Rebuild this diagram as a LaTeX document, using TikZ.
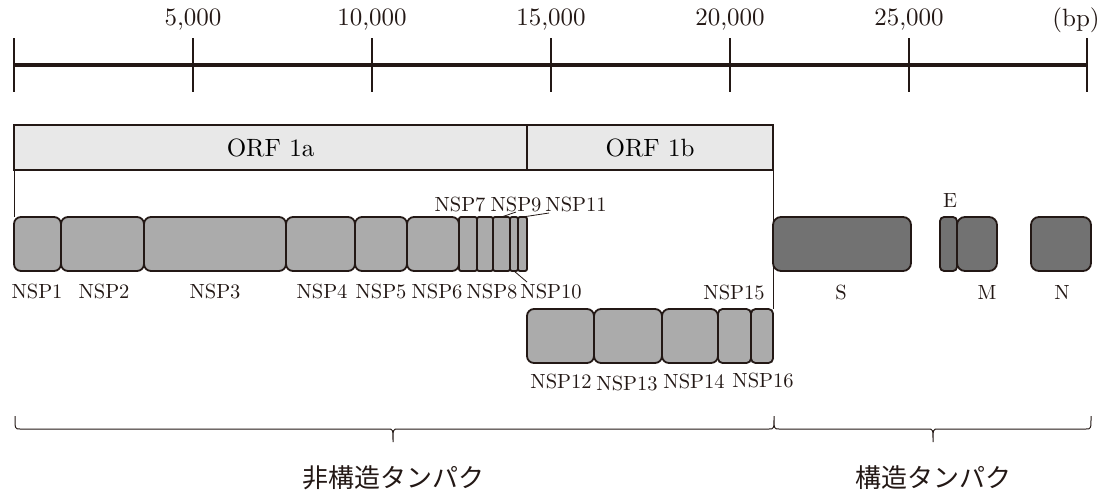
\documentclass[tikz,border=0pt]{standalone}
\usepackage{fontspec}
\setmainfont{lmroman10-regular.otf}
\newfontfamily\cjk{Noto Sans CJK JP}
\definecolor{ink}{HTML}{231815}
\definecolor{nspg}{HTML}{ABABAB}
\definecolor{strg}{HTML}{727272}
\definecolor{orfg}{HTML}{E8E8E8}
\newcommand\seg[7]{\node[#6, minimum width={(#3-#2)*1pt}, minimum height={(#5-#4)*1pt}] (#1) at (#2,#4) {#7};}
\begin{document}
\begin{tikzpicture}[x=1pt,y=-1pt,
  box/.style={draw=ink, line width=1.8pt, inner sep=0pt, outer sep=0pt, anchor=north west},
  nsp/.style={box, fill=nspg, rounded corners=7pt},
  nspn/.style={box, fill=nspg, rounded corners=2pt},
  nspm/.style={box, fill=nspg, rounded corners=4.5pt},
  str/.style={box, fill=strg, rounded corners=8pt},
  strn/.style={box, fill=strg, rounded corners=4pt},
  orf/.style={box, fill=orfg, font=\fontsize{25}{28}\selectfont},
  num/.style={font=\fontsize{25}{28}\selectfont, text=ink},
  lab/.style={font=\fontsize{20.5}{23}\selectfont, text=ink, anchor=base, inner sep=0pt},
  lead/.style={draw=ink, line width=0.8pt},
  jp/.style={font=\cjk\fontsize{26}{30}\selectfont, text=ink}]
\useasboundingbox (0,0) rectangle (1105,493);
% scale
\coordinate (a0) at (14,65);
\coordinate (a1) at (1087,65);
\draw[ink, line width=4pt] (a0) -- (a1);
\foreach \x in {14,193,372,551,730,909,1087}
  \draw[ink, line width=1.1pt] (\x,38) -- (\x,92);
\node[num] (n5) at (193,20) {5,000};
\node[num] (n10) at (372,20) {10,000};
\node[num] (n15) at (551,20) {15,000};
\node[num] (n20) at (730,20) {20,000};
\node[num] (n25) at (909,20) {25,000};
\node[num] (nbp) at (1076,20) {(bp)};
% ORF boxes
\seg{orfa}{14}{527}{125}{170}{orf}{ORF 1a}
\seg{orfb}{527}{773}{125}{170}{orf}{ORF 1b}
% NSP row 1
\seg{nsp1}{14}{61}{217}{271}{nsp}{}
\seg{nsp2}{61}{144}{217}{271}{nsp}{}
\seg{nsp3}{144}{286}{217}{271}{nsp}{}
\seg{nsp4}{286}{355}{217}{271}{nsp}{}
\seg{nsp5}{355}{407}{217}{271}{nsp}{}
\seg{nsp6}{407}{459}{217}{271}{nsp}{}
\seg{nsp7}{459}{477}{217}{271}{nspn}{}
\seg{nsp8}{477}{493}{217}{271}{nspn}{}
\seg{nsp9}{493}{510}{217}{271}{nspn}{}
\seg{nsp10}{510}{518}{217}{271}{nspn}{}
\seg{nsp11}{518}{527}{217}{271}{nspn}{}
% NSP row 2
\seg{nsp12}{527}{594}{309}{363}{nsp}{}
\seg{nsp13}{594}{662}{309}{363}{nsp}{}
\seg{nsp14}{662}{718}{309}{363}{nsp}{}
\seg{nsp15}{718}{751}{309}{363}{nspm}{}
\seg{nsp16}{751}{773}{309}{363}{nspm}{}
% structural
\seg{S}{773}{911}{217}{271}{str}{}
\seg{E}{940}{957}{217}{271}{strn}{}
\seg{M}{957}{997}{217}{271}{str}{}
\seg{N}{1031}{1091}{217}{271}{str}{}
% connectors from ORF box
\draw[ink, line width=1pt] (orfa.south west) -- (nsp1.north west);
\draw[ink, line width=1pt] (orfb.south east) -- (nsp16.north east);
% labels
\node[lab] (l1) at (37,298) {NSP1};
\node[lab] (l2) at (104,298) {NSP2};
\node[lab] (l3) at (215,298) {NSP3};
\node[lab] (l4) at (322,298) {NSP4};
\node[lab] (l5) at (381,298) {NSP5};
\node[lab] (l6) at (437,298) {NSP6};
\node[lab] (l8) at (492,298) {NSP8};
\node[lab] (l10) at (551,298) {NSP10};
\node[lab] (l7) at (460,211) {NSP7};
\node[lab] (l9) at (516,211) {NSP9};
\node[lab] (l11) at (576,211) {NSP11};
\node[lab] (l15) at (734,299) {NSP15};
\node[lab] (l12) at (561,388) {NSP12};
\node[lab] (l13) at (627,390) {NSP13};
\node[lab] (l14) at (694,388) {NSP14};
\node[lab] (l16) at (763,387) {NSP16};
\node[lab] (lE) at (950,207) {E};
\node[lab] (lS) at (841,299) {S};
\node[lab] (lM) at (987,299) {M};
\node[lab] (lN) at (1062,299) {N};
% leader lines
\coordinate (c9) at (516,212);
\coordinate (c11) at (549,213);
\coordinate (c10) at (527,282);
\draw[lead] (c9) -- (nsp9.north);
\draw[lead] (c11) -- (nsp11.north);
\draw[lead] (nsp10.south) -- (c10);
% braces
\draw[ink, line width=1pt] (15,416) .. controls (15,429) .. (20,429) -- (388,429)
  .. controls (393,429) .. (393,442) .. controls (393,429) .. (398,429) -- (769,429)
  .. controls (774,429) .. (774,416) .. controls (774,429) .. (779,429) -- (928,429)
  .. controls (933,429) .. (933,442) .. controls (933,429) .. (938,429) -- (1086,429)
  .. controls (1091,429) .. (1091,416);
\node[jp] (j1) at (393,478) {非構造タンパク};
\node[jp] (j2) at (933,478) {構造タンパク};
\end{tikzpicture}
\end{document}
